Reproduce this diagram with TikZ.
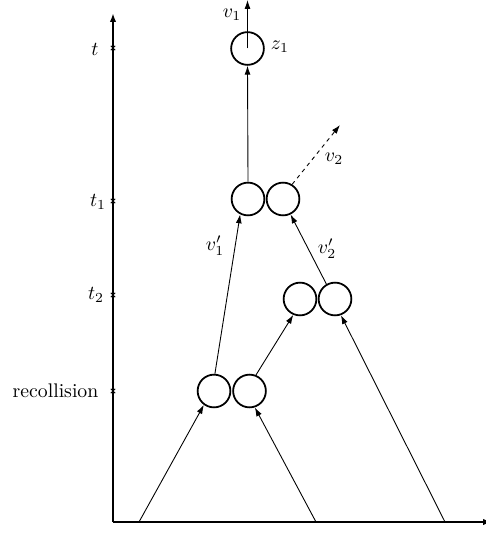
\documentclass[tikz,border=0pt]{standalone}
\usetikzlibrary{arrows.meta}
\begin{document}
\begin{tikzpicture}[x=0.507pt,y=-0.507pt,
  particle/.style={circle,draw,line width=0.9pt,inner sep=0pt,minimum size=16.6pt},
  axis/.style={line width=0.9pt,-{Latex[length=4.5pt,width=3.2pt]}},
  traj/.style={line width=0.45pt,-{Latex[length=4.5pt,width=3pt]}},
  tickmark/.style={line width=0.5pt},
  lab/.style={inner sep=0pt}]
\useasboundingbox (0,0) rectangle (485,533);
% axes
\coordinate (o) at (113,522);
\coordinate (ytop) at (113,13);
\coordinate (xend) at (492,522);
\draw[axis] (o) -- (ytop);
\draw[axis] (o) -- (xend);
% ticks
\foreach \y/\n in {48/tt,201/ta,295/tb,391/tr}{
  \coordinate (\n) at (113,\y);
  \draw[tickmark] ([shift={(-2.2,-2.2)}]\n) -- ([shift={(2.2,2.2)}]\n)
                  ([shift={(-2.2,2.2)}]\n) -- ([shift={(2.2,-2.2)}]\n);
}
\node[lab] (lt) at (95,49) {$t$};
\node[lab] (lt1) at (98,202) {$t_1$};
\node[lab] (lt2) at (96,295) {$t_2$};
\node[lab] (lrec) at (55.5,391) {recollision};
% particles
\node[particle] (z1) at (247.5,48.5) {};
\node[particle] (t1l) at (248,199) {};
\node[particle] (t1r) at (283,199) {};
\node[particle] (t2l) at (300,299) {};
\node[particle] (t2r) at (335,299) {};
\node[particle] (rl) at (214,391) {};
\node[particle] (rr) at (249.5,391) {};
% start points
\coordinate (b1) at (139,522);
\coordinate (b2) at (316,522);
\coordinate (b3) at (445,522);
\coordinate (v1end) at (247.5,0);
\coordinate (v2end) at (340,125);
% trajectories
\draw[traj] (b1) -- (rl.234);
\draw[traj] (b2) -- (rr.288);
\draw[traj] (b3) -- (t2r.290);
\draw[traj] (rl.87) -- (t1l.243);
\draw[traj] (rr.68) -- (t2l.247);
\draw[traj] (t2r.120) -- (t1r.296);
\draw[traj] (t1l.90) -- (z1.270);
\draw[traj] (z1.center) -- (v1end);
\draw[traj,dash pattern=on 2pt off 2pt] (t1r.58) -- (v2end);
% labels
\node[lab] (lv1) at (232,15) {$v_1$};
\node[lab] (lz1) at (280,47) {$z_1$};
\node[lab] (lv2) at (334,159) {$v_2$};
\node[lab] (lv1p) at (215,246) {$v_1'$};
\node[lab] (lv2p) at (327,249) {$v_2'$};
\end{tikzpicture}
\end{document}
